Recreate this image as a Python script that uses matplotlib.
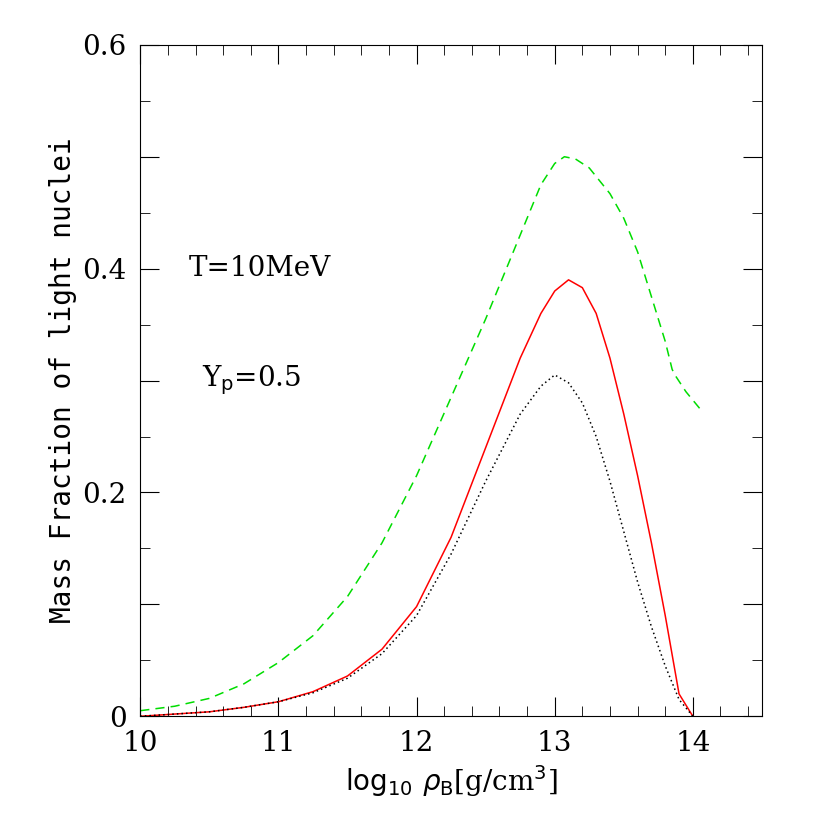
import matplotlib
matplotlib.use("Agg")
import matplotlib.pyplot as plt
from matplotlib.ticker import MultipleLocator, FuncFormatter

green_x = [10.0, 10.25, 10.5, 10.75, 11.0, 11.25, 11.5, 11.75, 12.0, 12.25, 12.5, 12.75, 12.9, 13.0, 13.07, 13.15, 13.25, 13.4, 13.5, 13.6, 13.7, 13.8, 13.85, 13.87, 13.95, 14.05]
green_y = [0.005, 0.009, 0.016, 0.029, 0.048, 0.072, 0.107, 0.155, 0.215, 0.285, 0.355, 0.43, 0.475, 0.494, 0.5, 0.498, 0.49, 0.467, 0.445, 0.415, 0.375, 0.335, 0.31, 0.305, 0.29, 0.275]
red_x = [10.0, 10.25, 10.5, 10.75, 11.0, 11.25, 11.5, 11.75, 12.0, 12.25, 12.5, 12.75, 12.9, 13.0, 13.1, 13.2, 13.3, 13.4, 13.5, 13.6, 13.7, 13.8, 13.9, 14.0]
red_y = [0.0, 0.002, 0.004, 0.008, 0.013, 0.022, 0.036, 0.06, 0.098, 0.16, 0.24, 0.32, 0.36, 0.38, 0.39, 0.383, 0.36, 0.32, 0.27, 0.215, 0.155, 0.09, 0.02, 0.0]
black_x = [10.0, 10.25, 10.5, 10.75, 11.0, 11.25, 11.5, 11.75, 12.0, 12.25, 12.5, 12.75, 12.9, 13.0, 13.1, 13.2, 13.3, 13.4, 13.5, 13.6, 13.7, 13.8, 13.9, 14.0]
black_y = [0.0, 0.002, 0.004, 0.008, 0.013, 0.021, 0.034, 0.056, 0.09, 0.145, 0.21, 0.27, 0.295, 0.305, 0.298, 0.28, 0.25, 0.21, 0.165, 0.12, 0.08, 0.045, 0.015, 0.0]

fig = plt.figure(figsize=(8.3, 8.3), dpi=100)
ax = fig.add_axes([0.169, 0.137, 0.749, 0.809])
ax.plot(green_x, green_y, color="#00dd00", lw=1.1, dashes=(6, 4))
ax.plot(red_x, red_y, color="red", lw=1.1)
ax.plot(black_x, black_y, color="black", lw=1.1, ls=(0, (1, 2)))
ax.set_xlim(10, 14.5)
ax.set_ylim(0, 0.6)
ax.xaxis.set_major_locator(MultipleLocator(1))
ax.xaxis.set_minor_locator(MultipleLocator(0.2))
ax.yaxis.set_major_locator(MultipleLocator(0.1))
ax.yaxis.set_minor_locator(MultipleLocator(0.05))
ax.yaxis.set_major_formatter(FuncFormatter(lambda v, p: ("0" if abs(v) < 1e-9 else f"{v:.1f}") if round(v * 10) % 2 == 0 else ""))
ax.tick_params(which="both", direction="in", top=True, right=True, labelsize=20, pad=10)
ax.tick_params(which="major", length=14)
ax.tick_params(which="minor", length=7)
for lab in ax.get_xticklabels() + ax.get_yticklabels():
    lab.set_family("DejaVu Serif")
ax.set_xlabel(r"$\mathrm{log}_{10}\ \rho_\mathrm{B}$[g/cm$^3$]", fontsize=20, family="DejaVu Serif")
ax.set_ylabel("Mass Fraction of light nuclei", fontsize=20, family="DejaVu Sans Mono")
ax.text(10.35, 0.4, "T=10MeV", fontsize=20, family="DejaVu Serif", va="center")
ax.text(10.45, 0.3, r"Y$_\mathrm{p}$=0.5", fontsize=20, family="DejaVu Serif", va="center")
fig.savefig("out.png", dpi=100)
